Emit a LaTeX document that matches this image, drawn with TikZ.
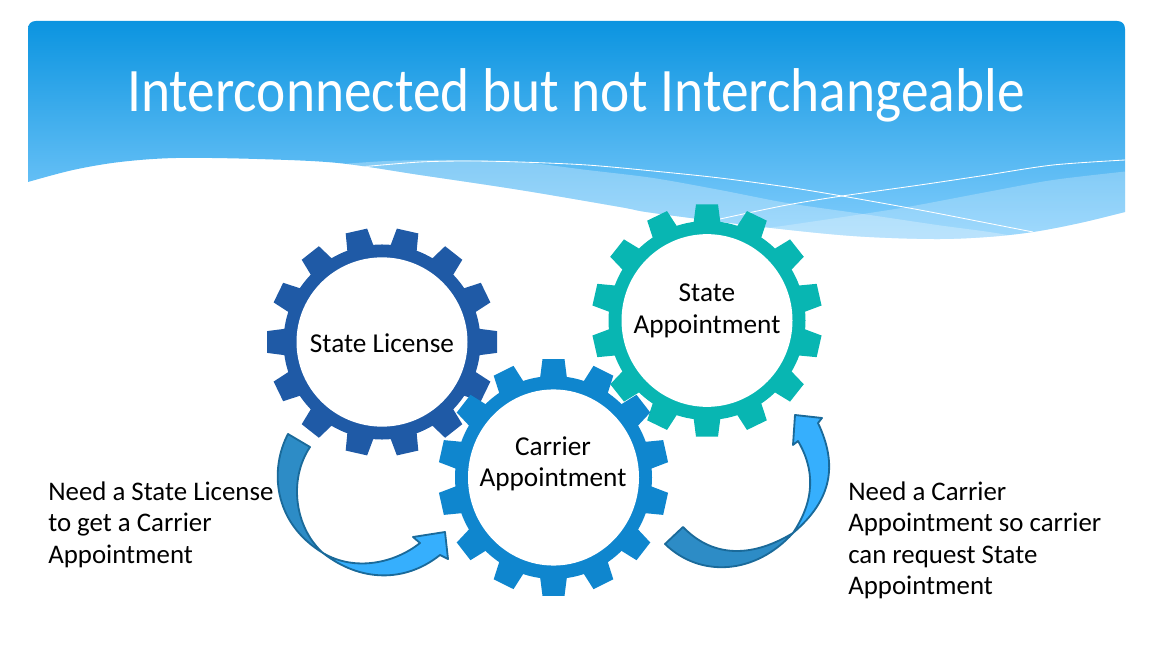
\documentclass[tikz,border=0pt]{standalone}
\usepackage{fontspec}
\setmainfont{Carlito}
\usepackage{xcolor}
\definecolor{headTop}{HTML}{0B94E0}
\definecolor{headBot}{HTML}{83CEFD}
\definecolor{licenseBlue}{HTML}{1F5AA6}
\definecolor{carrierBlue}{HTML}{0F86CE}
\definecolor{stateTeal}{HTML}{08B6B2}
\definecolor{arrowEdge}{HTML}{1A6A9A}
\definecolor{arrowTail}{HTML}{2D8CC6}
\definecolor{arrowHead}{HTML}{36AFFD}
\tikzset{
    bodytext/.style={font=\fontsize{19.1}{22.4}\selectfont,align=left,anchor=base west,inner sep=0pt,text=black},
    geartext/.style={font=\fontsize{19.4}{22.4}\selectfont,align=center,inner sep=0pt,text=black},
    curvedarrow/.style={draw=arrowEdge,line width=1.3pt,line join=round},
    waveline/.style={draw=white,line width=0.6pt}
}
% center, first tooth angle, colour, yscale
\newcommand{\gearwheel}[4]{
    \begin{scope}[shift={#1},yscale=#4]
        \fill[#3] (0,0) circle (98.5);
        \foreach \a in {0,...,13}
            \fill[#3,rotate=#2+\a*360/14] (96,-13.5) -- (115,-11) -- (115,11) -- (96,13.5) -- cycle;
        \fill[white] (0,0) circle (85.5);
    \end{scope}
}
\def\headerpath{(28,182) -- (28,29) .. controls (28,24) and (31,21) .. (36,21) -- (1117,21) .. controls (1122,21) and (1125,24) .. (1125,29) -- (1125,212) -- plot[smooth,tension=0.55] coordinates {(1125,212) (1080,223) (1033,232) (987,237) (933,239) (853,236) (763,227) (653,213) (620,207) (520,190) (420,175) (338,163) (257,159) (176,158) (120,162) (73,170) (28,182)} -- cycle}
\begin{document}
\begin{tikzpicture}[x=0.025cm,y=-0.025cm]
    \useasboundingbox (0,0) rectangle (1152,648);
    % header
    \shade[top color=headTop,bottom color=headBot] \headerpath;
    \begin{scope}
        \clip \headerpath;
        \fill[white,opacity=0.28] plot[smooth] coordinates {(330,165) (387,161) (450,160) (520,162) (587,170) (653,178) (720,190) (787,203) (863,214) (937,225) (1007,235) (1060,250)} -- (330,260) -- cycle;
        \fill[white,opacity=0.24] plot[smooth] coordinates {(740,232) (803,223) (863,214) (913,206) (987,192) (1053,180) (1130,171)} -- (1130,260) -- (740,260) -- cycle;
        \draw[waveline] plot[smooth] coordinates {(360,167) (420,162) (470,161) (520,162) (587,165) (653,171) (720,178) (787,187) (842,196) (920,210) (987,223) (1033,232)};
        \draw[waveline] plot[smooth] coordinates {(700,224) (720,219) (787,205) (842,196) (920,185) (987,175) (1053,165) (1125,160)};
    \end{scope}
    \node[font=\fontsize{44}{48}\selectfont,text=white,anchor=base,inner sep=0pt,xscale=0.895] (title) at (576,112) {Interconnected but not Interchangeable};
    % gears
    \gearwheel{(382,342)}{0}{licenseBlue}{0.99}
    \gearwheel{(707,320.5)}{90}{stateTeal}{1.01}
    \gearwheel{(553.5,477.5)}{90}{carrierBlue}{1.03}
    \node[geartext] (license) at (382,343) {State License};
    \node[geartext] (stateapp) at (707,311) {State\\Appointment};
    \node[geartext] (carrier) at (553,464) {Carrier\\Appointment};
    % left arrow
    \draw[curvedarrow,fill=arrowHead] (323,553) .. controls (360,582) and (405,583) .. (440,555) -- (448,559) -- (445,532) -- (413,537) -- (420,543) .. controls (395,563) and (355,572) .. (323,553) -- cycle;
    \draw[curvedarrow,fill=arrowTail] (288,434) .. controls (270,468) and (272,522) .. (323,553) .. controls (295,528) and (288,480) .. (310,447) -- cycle;
    % right arrow
    \draw[curvedarrow,fill=arrowHead] (793,533) .. controls (815,500) and (815,470) .. (798,441) -- (793,445) -- (795,415) -- (822,418) -- (818,423) .. controls (838,465) and (832,500) .. (793,533) -- cycle;
    \draw[curvedarrow,fill=arrowTail] (665,544) .. controls (700,578) and (755,575) .. (793,533) .. controls (755,556) and (715,560) .. (683,527) -- cycle;
    % side texts
    \node[bodytext] (needlicense) at (48,563) {Need a State License\\to get a Carrier\\Appointment};
    \node[bodytext] (needcarrier) at (848,594.5) {Need a Carrier\\Appointment so carrier\\can request State\\Appointment};
\end{tikzpicture}
\end{document}
